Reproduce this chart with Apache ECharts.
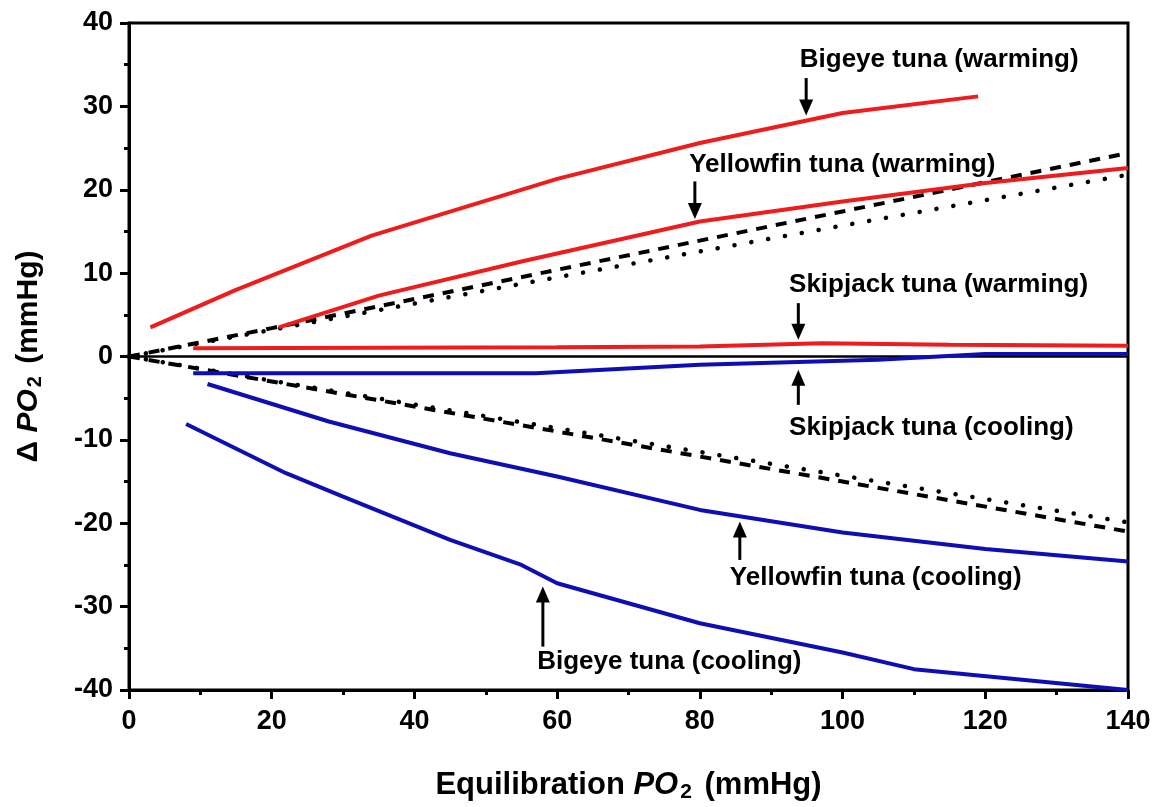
<!DOCTYPE html>
<html>
<head>
<meta charset="utf-8">
<script src="https://cdn.jsdelivr.net/npm/echarts@6/dist/echarts.min.js"></script>
<style>
html,body{margin:0;padding:0;background:#fff;}
#chart{width:1160px;height:807px;}
</style>
</head>
<body>
<div id="chart"></div>
<script>
// ---- data ----
const xTicks = [0, 20, 40, 60, 80, 100, 120, 140];
const yTicks = [-40, -30, -20, -10, 0, 10, 20, 30, 40];

const bigeyeWarming = [[3,3.5],[15,8],[34,14.5],[60,21.3],[80,25.6],[95,28.3],[100,29.2],[119,31.2]];
const yellowfinWarming = [[21,3.5],[35,7.3],[55,11.4],[80,16.2],[100,18.6],[120,20.8],[140,22.6]];
const skipjackWarming = [[9,1.0],[60,1.1],[80,1.2],[97,1.6],[115,1.4],[140,1.3]];
const skipjackCooling = [[9,-2.0],[57,-2.0],[80,-1.0],[105,-0.4],[120,0.3],[140,0.3]];
const yellowfinCooling = [[11,-3.3],[28,-7.8],[45,-11.6],[60,-14.4],[80,-18.4],[100,-21.1],[120,-23.1],[140,-24.6]];
const bigeyeCooling = [[8,-8.1],[22,-14],[30,-16.8],[45,-22],[55,-25],[60,-27.2],[80,-32],[100,-35.5],[110,-37.5],[140,-40]];
const warmingDashed = [[0,0],[20,3.4],[60,10.4],[100,17.4],[140,24.4]];
const warmingDotted = [[0,0],[20,3.2],[60,9.5],[100,15.7],[140,21.8]];
const coolingDashed = [[0,0],[20,-3.0],[60,-9.0],[100,-15.0],[140,-21.0]];
const coolingDotted = [[0,0],[20,-2.9],[60,-8.6],[100,-14.3],[140,-19.9]];

const labels = ['Bigeye tuna (warming)','Yellowfin tuna (warming)','Skipjack tuna (warming)',
                'Skipjack tuna (cooling)','Yellowfin tuna (cooling)','Bigeye tuna (cooling)'];
// annotation anchors in data units: text left x, text centre y, arrow x, arrow tail y, arrow tip y
const labelX = [94.0, 78.5, 92.5, 92.5, 84.2, 57.2];
const labelY = [35.6, 23.0, 8.6, -8.5, -26.6, -36.6];
const arrowX = [94.9, 79.3, 93.8, 93.8, 85.6, 58.0];
const arrowTail = [33.4, 21.0, 6.4, -5.8, -24.4, -34.8];
const arrowTip = [28.9, 16.5, 2.0, -1.6, -19.8, -27.6];

// ---- chart ----
const RED = '#ee1c1c', BLUE = '#0e0eb4';
const FONT = 'Liberation Sans, Arial, sans-serif';
const chart = echarts.init(document.getElementById('chart'));

function lineSeries(data, color, type, width, cap) {
  return {
    type: 'line', data: data, showSymbol: false, symbol: 'none', smooth: false,
    lineStyle: {color: color, width: width, type: type, cap: cap || 'butt'},
    silent: true, animation: false, z: 3
  };
}

const option = {
  animation: false,
  backgroundColor: '#fff',
  grid: {left: 129, right: 32, top: 23, bottom: 117, outerBoundsMode: 'none', containLabel: false,
         show: true, borderColor: '#000', borderWidth: 3, backgroundColor: 'transparent'},
  xAxis: {
    type: 'value', min: xTicks[0], max: xTicks[xTicks.length-1], interval: 20,
    axisLine: {show: true, onZero: false, lineStyle: {color: '#000', width: 3}},
    axisTick: {show: true, length: 9, lineStyle: {color: '#000', width: 3}},
    minorTick: {show: true, splitNumber: 2, length: 5, lineStyle: {color: '#000', width: 3}},
    splitLine: {show: false},
    axisLabel: {color: '#000', fontSize: 27, fontWeight: 'bold', fontFamily: FONT, margin: 18},
    name: '{a|Equilibration }{i|PO}{s|2}{a| (mmHg)}',
    nameLocation: 'middle', nameGap: 78,
    nameTextStyle: {
      rich: {
        a: {fontSize: 31, fontWeight: 'bold', fontFamily: FONT, color: '#000'},
        i: {fontSize: 31, fontWeight: 'bold', fontStyle: 'italic', fontFamily: FONT, color: '#000'},
        s: {fontSize: 21, fontWeight: 'bold', fontFamily: FONT, color: '#000', padding: [14,4,0,2]}
      }
    }
  },
  yAxis: {
    type: 'value', min: yTicks[0], max: yTicks[yTicks.length-1], interval: 10,
    axisLine: {show: true, onZero: false, lineStyle: {color: '#000', width: 3}},
    axisTick: {show: true, length: 9, lineStyle: {color: '#000', width: 3}},
    minorTick: {show: true, splitNumber: 2, length: 5, lineStyle: {color: '#000', width: 3}},
    splitLine: {show: false},
    axisLabel: {color: '#000', fontSize: 27, fontWeight: 'bold', fontFamily: FONT, margin: 16},
    name: '{a|Δ }{i|PO}{s|2}{a| (mmHg)}',
    nameLocation: 'middle', nameGap: 84, nameRotate: 90,
    nameTextStyle: {
      rich: {
        a: {fontSize: 30, fontWeight: 'bold', fontFamily: FONT, color: '#000'},
        i: {fontSize: 30, fontWeight: 'bold', fontStyle: 'italic', fontFamily: FONT, color: '#000'},
        s: {fontSize: 20, fontWeight: 'bold', fontFamily: FONT, color: '#000', padding: [13,4,0,2]}
      }
    }
  },
  series: [
    Object.assign(lineSeries([[0,0],[140,0]], '#000', 'solid', 2.5), {z: 2}),
    lineSeries(warmingDashed, '#000', [11, 9], 4),
    lineSeries(warmingDotted, '#000', [0.1, 17], 4.5, 'round'),
    lineSeries(coolingDashed, '#000', [11, 9], 4),
    lineSeries(coolingDotted, '#000', [0.1, 17], 4.5, 'round'),
    lineSeries(bigeyeWarming, RED, 'solid', 4),
    lineSeries(yellowfinWarming, RED, 'solid', 4),
    lineSeries(skipjackWarming, RED, 'solid', 4),
    lineSeries(skipjackCooling, BLUE, 'solid', 4),
    lineSeries(yellowfinCooling, BLUE, 'solid', 4),
    lineSeries(bigeyeCooling, BLUE, 'solid', 4)
  ]
};
chart.setOption(option);

// annotations: text + arrows, placed via the chart's own coordinate conversion
const elements = [];
for (let i = 0; i < labels.length; i++) {
  const tp = chart.convertToPixel({gridIndex: 0}, [labelX[i], labelY[i]]);
  elements.push({
    type: 'text', x: tp[0], y: tp[1], z: 10,
    style: {text: labels[i], fill: '#000', font: 'bold 26px ' + FONT, textAlign: 'left', textVerticalAlign: 'middle'}
  });
  const a = chart.convertToPixel({gridIndex: 0}, [arrowX[i], arrowTail[i]]);
  const b = chart.convertToPixel({gridIndex: 0}, [arrowX[i], arrowTip[i]]);
  const dir = b[1] > a[1] ? 1 : -1;
  const headLen = 16, headHalf = 7;
  elements.push({
    type: 'line', z: 10,
    shape: {x1: a[0], y1: a[1], x2: b[0], y2: b[1] - dir * headLen + dir},
    style: {stroke: '#000', lineWidth: 3}
  });
  elements.push({
    type: 'polygon', z: 10,
    shape: {points: [[b[0], b[1]], [b[0] - headHalf, b[1] - dir * headLen], [b[0] + headHalf, b[1] - dir * headLen]]},
    style: {fill: '#000'}
  });
}
chart.setOption({graphic: {elements: elements}});
</script>
</body>
</html>
